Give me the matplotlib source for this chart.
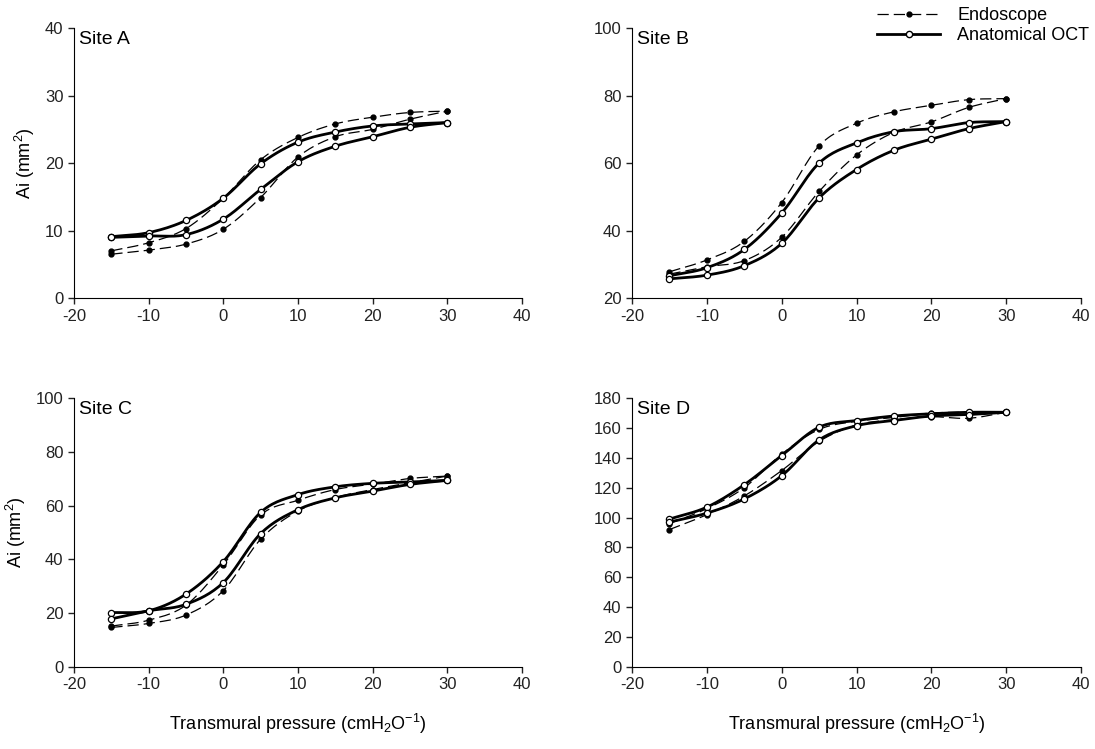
import numpy as np
import matplotlib
matplotlib.use("Agg")
import matplotlib.pyplot as plt
from matplotlib.lines import Line2D

plt.rcParams['font.family'] = ['Liberation Sans', 'DejaVu Sans']
plt.rcParams['mathtext.fontset'] = 'custom'
plt.rcParams['mathtext.rm'] = 'Liberation Sans'
plt.rcParams['mathtext.it'] = 'Liberation Sans:italic'
plt.rcParams['axes.unicode_minus'] = False

# transmural pressure steps (cmH2O)
pressure = [-15, -10, -5, 0, 5, 10, 15, 20, 25, 30]

# Site A - upper and lower branch of each loop
a_endo_up = [7.0, 8.2, 10.3, 14.8, 20.5, 23.8, 25.8, 26.8, 27.5, 27.7]
a_endo_lo = [6.5, 7.1, 8.0, 10.2, 14.9, 20.9, 23.9, 25.0, 26.5, 27.7]
a_oct_up = [9.1, 9.7, 11.5, 14.8, 19.9, 23.1, 24.6, 25.5, 25.8, 26.0]
a_oct_lo = [9.0, 9.2, 9.4, 11.7, 16.1, 20.2, 22.5, 23.9, 25.3, 26.0]

# Site B
b_endo_up = [27.8, 31.3, 36.8, 48.3, 65.1, 71.8, 75.2, 77.1, 78.8, 79.1]
b_endo_lo = [27.1, 29.3, 31.1, 38.0, 51.6, 62.4, 69.1, 72.2, 76.5, 79.1]
b_oct_up = [26.6, 29.0, 34.4, 45.2, 60.0, 66.0, 69.3, 70.2, 72.0, 72.3]
b_oct_lo = [25.7, 26.8, 29.6, 36.2, 49.7, 58.1, 63.8, 67.1, 70.2, 72.3]

# Site C
c_endo_up = [15.2, 17.4, 23.0, 38.0, 56.5, 62.0, 66.0, 68.0, 70.1, 71.0]
c_endo_lo = [14.7, 16.2, 19.3, 28.4, 47.5, 58.0, 63.0, 66.0, 68.5, 71.0]
c_oct_up = [20.2, 20.9, 27.1, 39.2, 57.5, 64.1, 67.0, 68.3, 68.8, 69.4]
c_oct_lo = [17.9, 20.9, 23.3, 31.4, 49.6, 58.5, 62.9, 65.4, 67.9, 69.4]

# Site D
d_endo_up = [96, 106, 120, 142.5, 159, 164.5, 167, 170, 170.5, 170.5]
d_endo_lo = [92, 102, 114.5, 131.5, 151, 162, 165.5, 167.5, 166.5, 170.5]
d_oct_up = [99, 107, 122, 141.5, 160.5, 165, 168, 169.5, 170.5, 170.5]
d_oct_lo = [97, 103, 112.5, 128, 152, 161.5, 165, 168, 169, 170.5]

site_names = ['Site A', 'Site B', 'Site C', 'Site D']
y_ticks = [np.arange(0, 41, 10), np.arange(20, 101, 20),
           np.arange(0, 101, 20), np.arange(0, 181, 20)]
x_ticks = np.arange(-20, 41, 10)


def smooth(x, y, n=16):
    """Catmull-Rom curve through the points (like Excel smoothed lines)"""
    x = np.asarray(x, float)
    y = np.asarray(y, float)
    px = np.concatenate([[2 * x[0] - x[1]], x, [2 * x[-1] - x[-2]]])
    py = np.concatenate([[2 * y[0] - y[1]], y, [2 * y[-1] - y[-2]]])
    t = np.linspace(0, 1, n, endpoint=False)
    xs, ys = [], []
    for i in range(1, len(px) - 2):
        for p, out in ((px, xs), (py, ys)):
            p0, p1, p2, p3 = p[i - 1], p[i], p[i + 1], p[i + 2]
            out.extend(0.5 * (2 * p1 + (-p0 + p2) * t
                              + (2 * p0 - 5 * p1 + 4 * p2 - p3) * t ** 2
                              + (-p0 + 3 * p1 - 3 * p2 + p3) * t ** 3))
    xs.append(x[-1])
    ys.append(y[-1])
    return xs, ys


endo_style = dict(color='black', lw=0.9, dashes=(9, 4))
oct_style = dict(color='black', lw=2.0)
endo_mk = dict(ls='none', marker='o', ms=3.5, mfc='black', mec='black')
oct_mk = dict(ls='none', marker='o', ms=4.5, mfc='white', mec='black', mew=0.9)

data = [(a_endo_up, a_endo_lo, a_oct_up, a_oct_lo),
        (b_endo_up, b_endo_lo, b_oct_up, b_oct_lo),
        (c_endo_up, c_endo_lo, c_oct_up, c_oct_lo),
        (d_endo_up, d_endo_lo, d_oct_up, d_oct_lo)]

fig = plt.figure(figsize=(10.95, 7.49), dpi=100)
rects = [[0.0676, 0.602, 0.409, 0.3605],
         [0.5772, 0.602, 0.410, 0.3605],
         [0.0676, 0.1095, 0.409, 0.359],
         [0.5772, 0.1095, 0.410, 0.359]]

for k in range(4):
    ax = fig.add_axes(rects[k])
    endo_up, endo_lo, oct_up, oct_lo = data[k]
    for series in (endo_up, endo_lo):
        sx, sy = smooth(pressure, series)
        ax.plot(sx, sy, **endo_style)
    for series in (oct_up, oct_lo):
        sx, sy = smooth(pressure, series)
        ax.plot(sx, sy, **oct_style)
    for series in (endo_up, endo_lo):
        ax.plot(pressure, series, **endo_mk)
    for series in (oct_up, oct_lo):
        ax.plot(pressure, series, **oct_mk)

    ax.set_xlim(-20, 40)
    ax.set_ylim(y_ticks[k][0], y_ticks[k][-1])
    ax.set_xticks(x_ticks)
    ax.set_yticks(y_ticks[k])
    ax.tick_params(labelsize=12, direction='out', length=4, width=1,
                   colors='#222222')
    for side in ('top', 'right'):
        ax.spines[side].set_visible(False)
    ax.text(0.01, 0.99, site_names[k], transform=ax.transAxes,
            fontsize=14, va='top', ha='left')
    if k in (0, 2):
        ax.set_ylabel('Ai (mm$^2$)', fontsize=13, labelpad=6)
    if k in (2, 3):
        ax.set_xlabel('Transmural pressure (cmH$_2$O$^{-1}$)', fontsize=13,
                      labelpad=14)

handles = [Line2D([], [], marker='o', ms=3.5, mfc='black', mec='black', **endo_style),
           Line2D([], [], marker='o', ms=4.5, mfc='white', mec='black', **oct_style)]
fig.legend(handles, ['Endoscope', 'Anatomical OCT'], loc='upper left',
           bbox_to_anchor=(0.786, 1.012), frameon=False, fontsize=13,
           handlelength=3.5, labelspacing=0.15, handletextpad=0.95)

fig.savefig('out.png', dpi=100)
